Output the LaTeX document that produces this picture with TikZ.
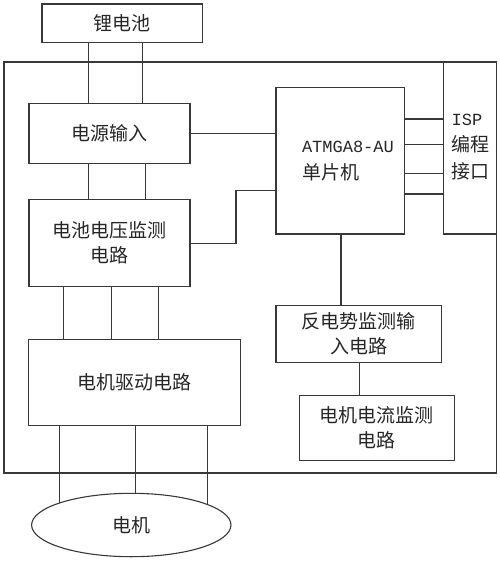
\documentclass[tikz,border=0pt]{standalone}
\usepackage{fontspec}
\setmainfont{Noto Sans CJK SC}
\newfontfamily\latinmono{Liberation Mono}
\usetikzlibrary{shapes.geometric}
\begin{document}
\begin{tikzpicture}[x=1pt,y=-1pt,line width=1.1pt,color=black!78,
  box/.style={draw, rectangle, inner sep=0pt, outer sep=0pt, anchor=north west,
    align=center, text=black!85, font=\fontsize{19}{25}\selectfont},
  lbl/.style={inner sep=0pt, outer sep=0pt, anchor=west, align=left, text=black!85}]
\useasboundingbox (0,0) rectangle (500,562);
% outer frame
\node[box, minimum width=492.7pt, minimum height=411pt] (frame) at (4,62) {};
% blocks
\node[box, minimum width=160.7pt, minimum height=38.7pt] (bat) at (42,4) {锂电池};
\node[box, minimum width=161pt, minimum height=60pt] (pwr) at (29,103.3) {电源输入};
\node[box, minimum width=161pt, minimum height=87.4pt] (bvm) at (29,199.3) {电池电压监测\\电路};
\node[box, minimum width=212pt, minimum height=85.6pt] (drv) at (28.7,339.7) {电机驱动电路};
\node[box, minimum width=128.7pt, minimum height=146.7pt] (mcu) at (276,87.3) {};
\node[lbl, font=\fontsize{19}{27}\selectfont] (mcutext) at (302,161.5) {{\latinmono\fontsize{17}{27}\selectfont ATMGA8-AU}\\单片机};
\node[box, minimum width=53.4pt, minimum height=172pt] (isp) at (443.3,62) {};
\node[lbl, font=\fontsize{19}{26.7}\selectfont] (isptext) at (451.7,147) {{\latinmono\fontsize{17}{26.7}\selectfont ISP}\\编程\\接口};
\node[box, minimum width=165.7pt, minimum height=56.6pt] (bemf) at (276,305.7) {反电势监测输\\入电路};
\node[box, minimum width=155pt, minimum height=64.6pt] (cur) at (299.3,395.7) {电机电流监测\\电路};
\node[draw, ellipse, inner sep=0pt, outer sep=0pt, minimum width=199.4pt, minimum height=63.4pt,
  text=black!85, font=\fontsize{19}{25}\selectfont] (motor) at (131.3,525) {电机};
% connectors
\foreach \x in {88.7,142.7} \draw (\x,0 |- bat.south) -- (\x,0 |- pwr.north);
\foreach \x in {88.7,145.3} \draw (\x,0 |- pwr.south) -- (\x,0 |- bvm.north);
\draw (pwr.east |- 0,133.7) -- (mcu.west |- 0,133.7);
\coordinate (bend) at (236,190.7);
\draw (bvm.east |- 0,243.3) -| (bend) -- (mcu.west |- bend);
\foreach \y in {119,144.3,173.3,194} \draw (mcu.east |- 0,\y) -- (isp.west |- 0,\y);
\draw (341,0 |- mcu.south) -- (341,0 |- bemf.north);
\draw (359.3,0 |- bemf.south) -- (359.3,0 |- cur.north);
\foreach \x in {63.3,111.7,158.3} \draw (\x,0 |- bvm.south) -- (\x,0 |- drv.north);
\foreach \a in {163.2,83.3,15.35} \draw (motor.\a) -- (motor.\a |- drv.south);
\end{tikzpicture}
\end{document}
